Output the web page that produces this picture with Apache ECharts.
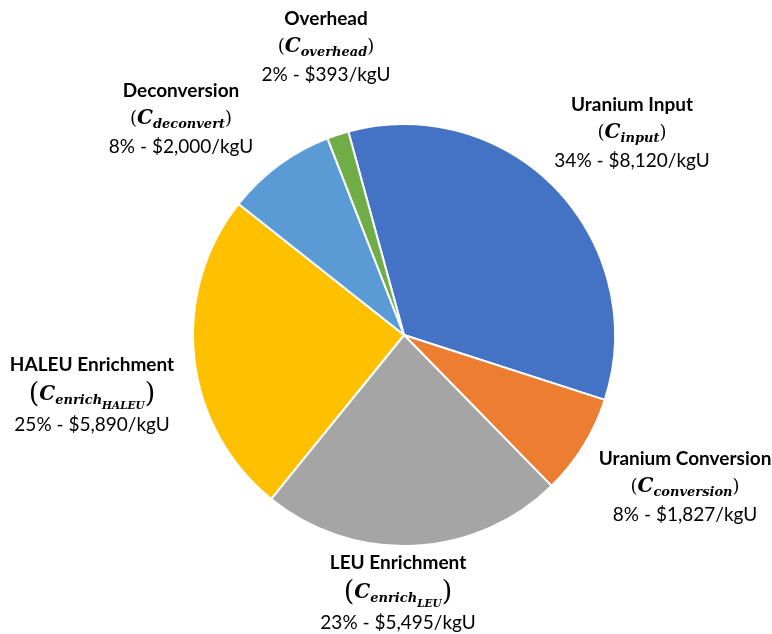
<!DOCTYPE html>
<html>
<head>
<meta charset="utf-8">
<script src="https://cdn.jsdelivr.net/npm/echarts@6/dist/echarts.min.js"></script>
<style>
  html, body { margin: 0; padding: 0; background: #fff; }
  #chart { width: 772px; height: 634px; }
</style>
</head>
<body>
<div id="chart"></div>
<script>
// cost components, $/kgU
const names = ["Uranium Input", "Uranium Conversion", "LEU Enrichment", "HALEU Enrichment", "Deconversion", "Overhead"];
const values = [8120, 1827, 5495, 5890, 2000, 393];
const subs = ["input", "conversion", "enrich", "enrich", "deconvert", "overhead"];
const subSubs = ["", "", "LEU", "HALEU", "", ""];
const colors = ["#4472C4", "#ED7D31", "#A5A5A5", "#FFC000", "#5B9BD5", "#70AD47"];

// label block centres (layout only)
const labelPos = [
  [632, 133],
  [685, 487],
  [398, 593],
  [92, 395],
  [181, 119],
  [326, 47],
];

const chart = echarts.init(document.getElementById("chart"));
const mathFont = "DejaVu Serif";
const textFont = "Lato";

const option = {
  animation: false,
  series: [
    {
      type: "pie",
      center: [404, 335],
      radius: 211,
      startAngle: 105.3,
      clockwise: true,
      percentPrecision: 0,
      data: names.map((n, i) => ({
        name: n,
        value: values[i],
        itemStyle: { color: colors[i] },
      })),
      itemStyle: { borderColor: "#fff", borderWidth: 2 },
      labelLine: { show: false },
      label: {
        show: true,
        position: "outside",
        alignTo: "none",
        overflow: "none",
        width: 300,
        align: "center",
        color: "#000",
        formatter: function (p) {
          const i = p.dataIndex;
          const big = subSubs[i] ? "P" : "p";
          let math = "{" + big + "|(}{c|C}{s|" + subs[i] + "}";
          if (subSubs[i]) math += "{ss|" + subSubs[i] + "}";
          math += "{" + big + "|)}";
          return (
            "{t|" + p.name + "}\n" + math + "\n{v|" + p.percent + "% - $" +
            p.value.toLocaleString("en-US") + "/kgU}"
          );
        },
        rich: {
          t: { fontFamily: textFont, fontWeight: "bold", fontSize: 19, lineHeight: 28, color: "#000" },
          v: { fontFamily: textFont, fontSize: 19, lineHeight: 28, color: "#000" },
          p: { fontFamily: mathFont, fontSize: 18, lineHeight: 28, color: "#000" },
          P: { fontFamily: mathFont, fontSize: 27, lineHeight: 32, color: "#000" },
          c: { fontFamily: mathFont, fontStyle: "italic", fontWeight: "bold", fontSize: 20, lineHeight: 26, color: "#000" },
          s: { fontFamily: mathFont, fontStyle: "italic", fontWeight: "bold", fontSize: 13, lineHeight: 14, padding: [11, 0, 0, 0], color: "#000" },
          ss: { fontFamily: mathFont, fontStyle: "italic", fontWeight: "bold", fontSize: 10.5, lineHeight: 11, padding: [22, 0, 0, 0], color: "#000" },
        },
      },
      labelLayout: function (params) {
        const pos = labelPos[params.dataIndex];
        return { x: pos[0], y: pos[1], align: "center", verticalAlign: "middle", hideOverlap: false };
      },
    },
  ],
};

chart.setOption(option);
window.addEventListener("resize", function () {
  chart.resize();
});
</script>
</body>
</html>
